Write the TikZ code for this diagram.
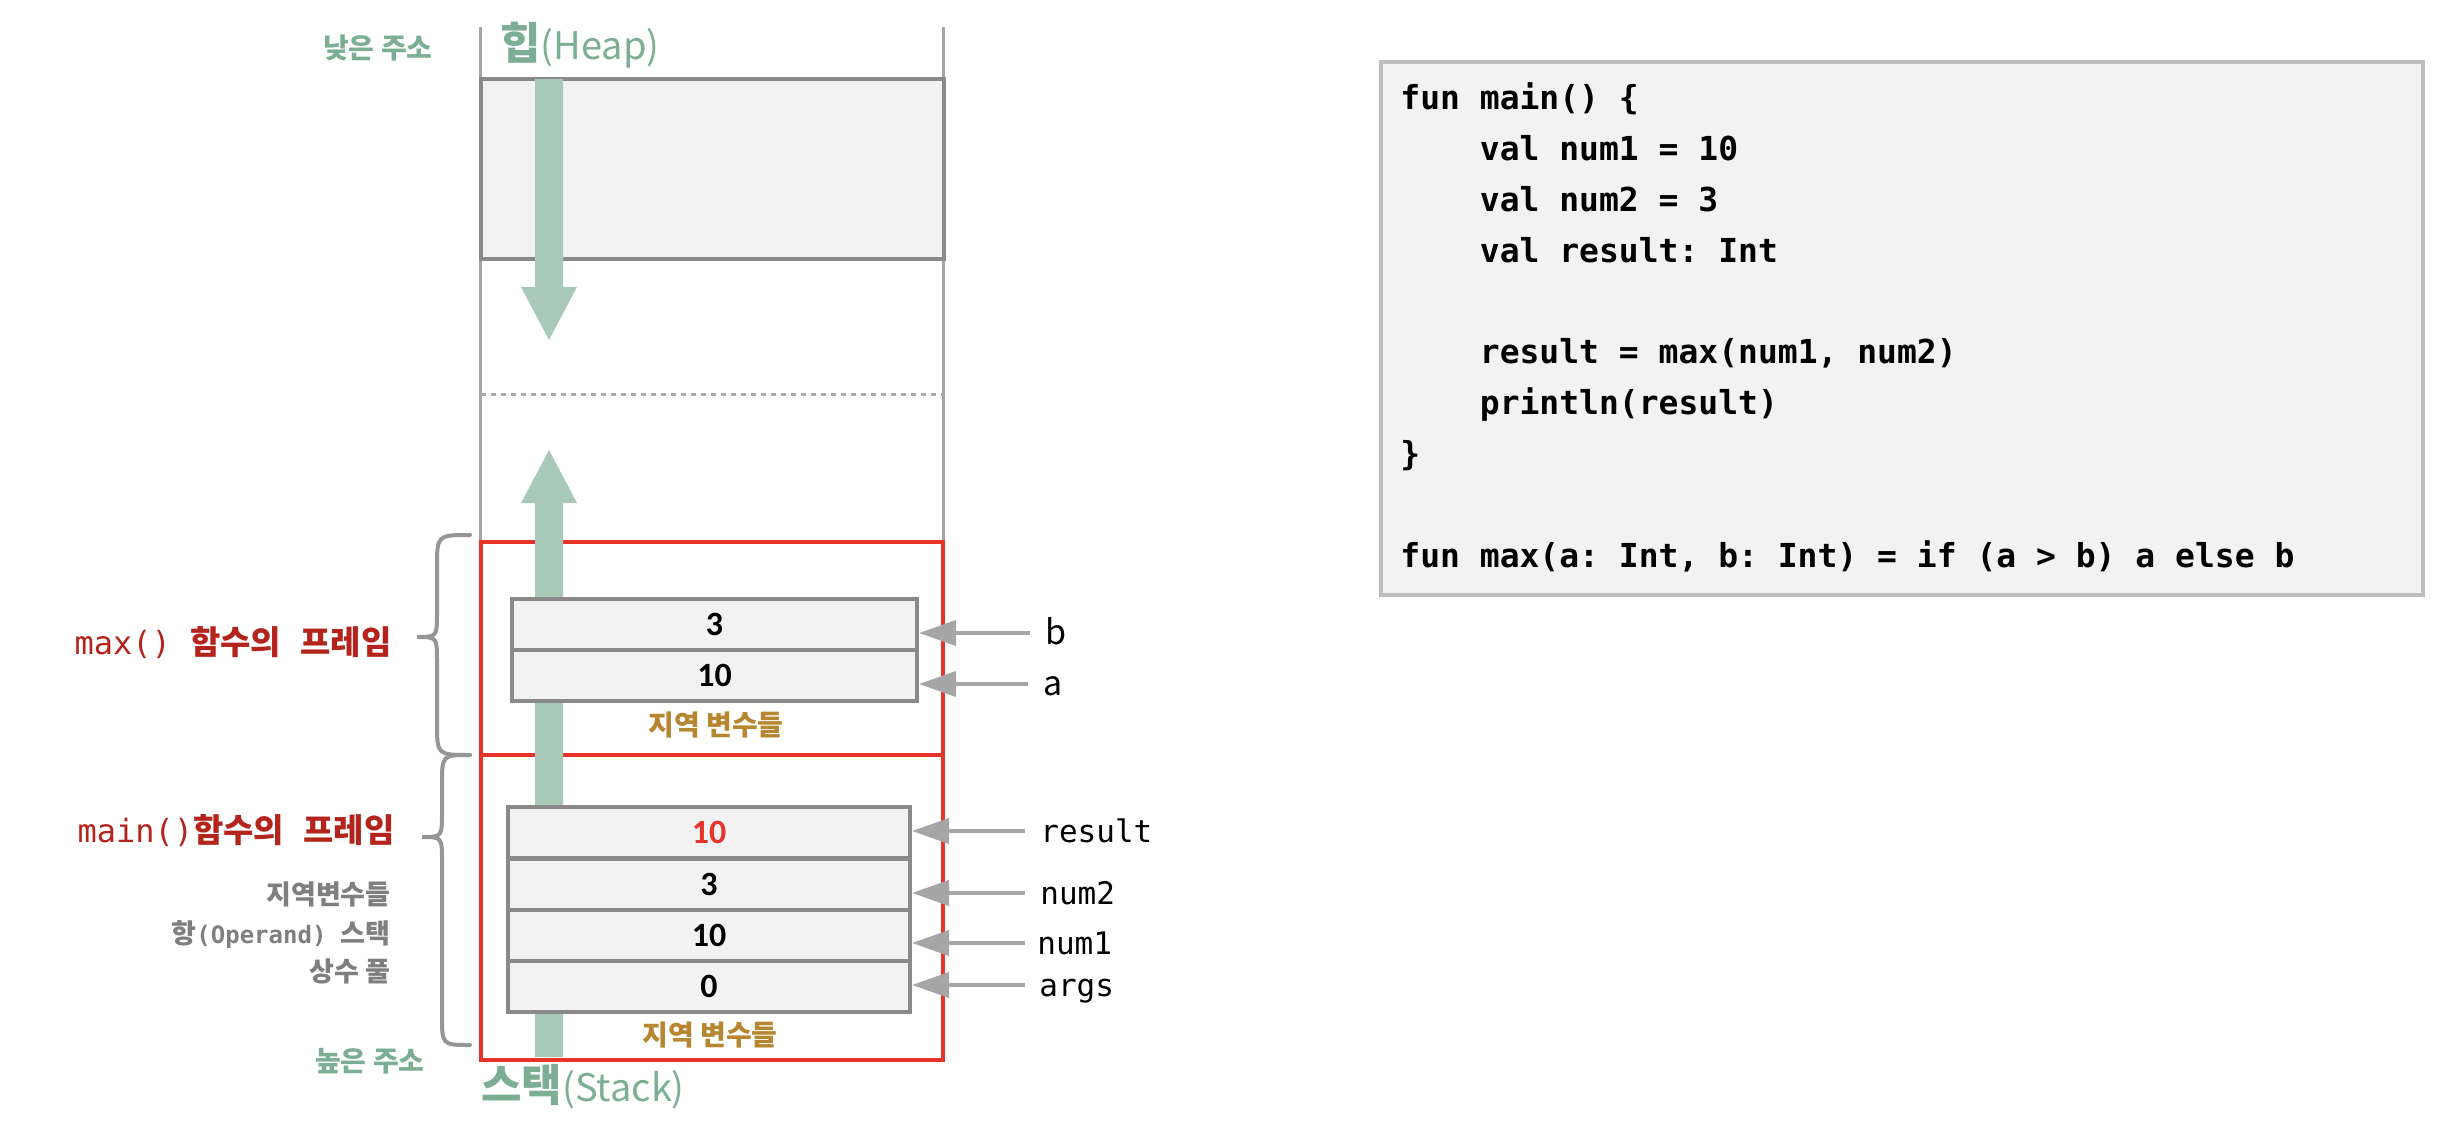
\documentclass[tikz,border=0pt]{standalone}
\usepackage{fontspec}
\setmainfont{Noto Sans CJK KR}
\newfontfamily\korf{Noto Sans CJK KR}
\newfontfamily\monof{DejaVu Sans Mono}
\newfontfamily\calf{Carlito}
\usetikzlibrary{arrows.meta}
\definecolor{hgreen}{RGB}{124,174,148}
\definecolor{agreen}{RGB}{168,201,184}
\definecolor{fred}{RGB}{232,52,40}
\definecolor{dred}{RGB}{178,36,28}
\definecolor{gold}{RGB}{183,134,48}
\definecolor{txtgray}{RGB}{127,127,127}
\definecolor{cellgray}{RGB}{137,137,137}
\definecolor{cellfill}{RGB}{242,242,242}
\definecolor{ptrgray}{RGB}{166,166,166}
\definecolor{colgray}{RGB}{165,165,165}
\definecolor{dotgray}{RGB}{170,170,170}
\definecolor{bracegray}{RGB}{150,150,150}
\definecolor{codeborder}{RGB}{190,190,190}
\newcommand{\rlmono}{\monof\fontsize{16pt}{19pt}\selectfont}
\newcommand{\rlkor}{\korf\bfseries\fontsize{16.5pt}{19pt}\selectfont}
\newcommand{\gkor}{\korf\bfseries\fontsize{13.5pt}{16pt}\selectfont}
\newcommand{\gmono}{\monof\fontsize{12pt}{14pt}\selectfont}
\frenchspacing
\begin{document}
\frenchspacing
\begin{tikzpicture}[x=0.5pt,y=-0.5pt,
  cellbox/.style={draw=cellgray, fill=cellfill, line width=2pt, minimum height=25.5pt, inner sep=0pt, font=\calf\bfseries\fontsize{17pt}{20pt}\selectfont},
  ptr/.style={draw=ptrgray, line width=2pt, -{Triangle[length=18.5pt,width=12.5pt]}},
  varlbl/.style={anchor=west, inner xsep=0pt, inner ysep=0pt, text height=11.5pt, text depth=0pt, font=\monof\fontsize{15.5pt}{18pt}\selectfont},
  sanslbl/.style={varlbl, font=\korf\fontsize{17pt}{20pt}\selectfont},
  redframe/.style={draw=fred, line width=2pt},
  curlyb/.style={draw=bracegray, line width=2pt, line cap=round},
  garrow/.style={fill=agreen, draw=none},
  codeline/.style={anchor=base west, inner sep=0pt, font=\monof\bfseries\fontsize{16.5pt}{20pt}\selectfont},
  goldlbl/.style={anchor=base, inner sep=0pt, text=gold, font=\korf\bfseries\fontsize{14pt}{17pt}\selectfont},
  graylbl/.style={anchor=base east, inner sep=0pt, text=txtgray, font=\gkor},
  greenlbl/.style={anchor=base east, inner sep=0pt, text=hgreen, font=\korf\bfseries\fontsize{14pt}{17pt}\selectfont}
]
\useasboundingbox (0,0) rectangle (2444,1122);

% column lines
\draw[colgray, line width=1.5pt] (480,27) -- (480,603);
\draw[colgray, line width=1.5pt] (943,27) -- (943,603);

% heap box
\draw[draw=cellgray, fill=cellfill, line width=2pt] (481,79) rectangle (944,259);

% dotted boundary
\draw[dotgray, line width=1.5pt, dash pattern=on 2.5pt off 2.5pt] (481,395) -- (943,395);

% frames
\draw[redframe] (481,542) rectangle (943,755);
\draw[redframe] (481,755) rectangle (943,1060);

% growth arrows
\fill[garrow] (535,79) -- (563,79) -- (563,287) -- (577,287) -- (549,340) -- (521,287) -- (535,287) -- cycle;
\fill[garrow] (535,1057) -- (563,1057) -- (563,503) -- (577,503) -- (549,450) -- (521,503) -- (535,503) -- cycle;

% max() cells
\node[cellbox, minimum width=202.5pt] (mb) at (714.5,624.5) {3};
\node[cellbox, minimum width=202.5pt] (ma) at (714.5,675.5) {10};
\node[goldlbl] (mloc) at (716,735) {지역 변수들};

% main() cells
\node[cellbox, minimum width=201pt, text=fred] (cres) at (709,832.5) {10};
\node[cellbox, minimum width=201pt] (cn2) at (709,884) {3};
\node[cellbox, minimum width=201pt] (cn1) at (709,935.5) {10};
\node[cellbox, minimum width=201pt] (carg) at (709,986.5) {0};
\node[goldlbl] (mainloc) at (710,1045) {지역 변수들};

% variable labels
\node[sanslbl] (lb) at (1045,633) {b};
\node[sanslbl] (la) at (1043,684) {a};
\node[varlbl] (lres) at (1040,831) {result};
\node[varlbl] (ln2) at (1040,893) {num2};
\node[varlbl] (ln1) at (1037,943) {num1};
\node[varlbl] (larg) at (1039,985) {args};

% pointer arrows
\draw[ptr] ([xshift=-7.5pt]lb.west) -- (lb.west -| mb.east);
\draw[ptr] ([xshift=-7.5pt]la.west) -- (la.west -| ma.east);
\draw[ptr] ([xshift=-7.5pt]lres.west) -- (lres.west -| cres.east);
\draw[ptr] ([xshift=-7.5pt]ln2.west) -- (ln2.west -| cn2.east);
\draw[ptr] ([xshift=-6pt]ln1.west) -- (ln1.west -| cn1.east);
\draw[ptr] ([xshift=-7pt]larg.west) -- (larg.west -| carg.east);

% braces
\draw[curlyb] (470,535) .. controls (437,535) .. (437,568) -- (437,612) .. controls (437,637) .. (417,637) .. controls (437,637) .. (437,662) -- (437,722) .. controls (437,755) .. (470,755);
\draw[curlyb] (470,755) .. controls (442,755) .. (442,785) -- (442,812) .. controls (442,837) .. (422,837) .. controls (442,837) .. (442,862) -- (442,1015) .. controls (442,1045) .. (470,1045);

% frame labels
\node[anchor=base east, inner sep=0pt, text=dred] (maxlbl) at (392,654) {{\rlmono max()\ }{\rlkor 함수의}{\rlmono\ }{\rlkor 프레임}};
\node[anchor=base east, inner sep=0pt, text=dred] (mainlbl) at (395,842) {{\rlmono main()}{\rlkor 함수의}{\rlmono\ }{\rlkor 프레임}};
\node[graylbl] (g1) at (391,904) {지역변수들};
\node[graylbl] (g2) at (391,943) {항{\gmono(Operand)\ }스택};
\node[graylbl] (g3) at (391,981) {상수 풀};

% address labels
\node[greenlbl] (low) at (433,59) {낮은 주소};
\node[greenlbl] (high) at (425,1071) {높은 주소};
\node[anchor=base west, inner sep=0pt, text=hgreen] (heap) at (500,60) {{\korf\bfseries\fontsize{22pt}{26pt}\selectfont 힙}{\korf\fontsize{19pt}{23pt}\selectfont(Heap)}};
\node[anchor=base west, inner sep=0pt, text=hgreen] (stack) at (481,1101) {{\korf\bfseries\fontsize{22pt}{26pt}\selectfont 스택}{\korf\fontsize{19pt}{23pt}\selectfont(Stack)}};

% code box
\draw[draw=codeborder, fill=cellfill, line width=1.75pt] (1381,62) rectangle (2423,595);
\node[codeline] (c0) at (1400,110) {fun main() \{};
\node[codeline] (c1) at (1400,160.8) {\ \ \ \ val num1 = 10};
\node[codeline] (c2) at (1400,211.6) {\ \ \ \ val num2 = 3};
\node[codeline] (c3) at (1400,262.4) {\ \ \ \ val result: Int};
\node[codeline] (c5) at (1400,364) {\ \ \ \ result = max(num1, num2)};
\node[codeline] (c6) at (1400,414.8) {\ \ \ \ println(result)};
\node[codeline] (c7) at (1400,465.6) {\}};
\node[codeline] (c9) at (1400,567.2) {fun max(a: Int, b: Int) = if (a > b) a else b};
\end{tikzpicture}
\end{document}
